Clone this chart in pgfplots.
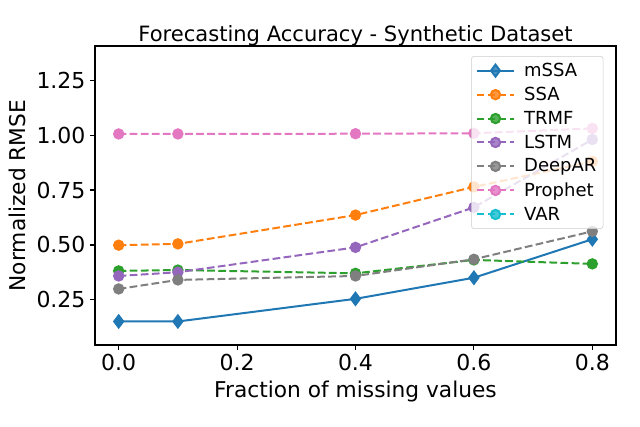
\documentclass[border=0pt]{standalone}
\usepackage{fontspec}
\setmainfont{DejaVu Sans}
\usepackage{pgfplots}
\pgfplotsset{compat=1.18}

\definecolor{c0}{HTML}{1F77B4}
\definecolor{c1}{HTML}{FF7F0E}
\definecolor{c2}{HTML}{2CA02C}
\definecolor{c4}{HTML}{9467BD}
\definecolor{c7}{HTML}{7F7F7F}
\definecolor{c6}{HTML}{E377C2}
\definecolor{c9}{HTML}{17BECF}

\begin{document}
\begin{tikzpicture}
\useasboundingbox (-71.25pt,-60.75pt) rectangle (408.75pt,258.75pt);
\begin{axis}[
    at={(0,0)}, anchor=south west,
    width=390.75pt, height=224.25pt,
    scale only axis,
    xmin=-0.04, xmax=0.84,
    ymin=0.045, ymax=1.405,
    xtick={0,0.2,0.4,0.6,0.8},
    ytick={0.25,0.5,0.75,1.0,1.25},
    xticklabels={0.0,0.2,0.4,0.6,0.8},
    yticklabels={0.25,0.50,0.75,1.00,1.25},
    tick align=outside,
    major tick length=3.6pt,
    xtick pos=bottom, ytick pos=left,
    axis line style={line width=0.8pt},
    every tick/.style={black, line width=0.8pt},
    tick label style={font=\fontsize{16.5pt}{19pt}\selectfont},
    /pgf/number format/assume math mode=true,
    every axis title shift=0pt,
    title={Forecasting Accuracy - Synthetic Dataset},
    title style={font=\fontsize{15.8pt}{19pt}\selectfont, at={(axis description cs:0.5,1.0335)}, anchor=center},
    xlabel={Fraction of missing values},
    ylabel={Normalized RMSE},
    xlabel style={font=\fontsize{16.3pt}{19pt}\selectfont, at={(axis description cs:0.5,-0.154)}, anchor=center},
    ylabel style={font=\fontsize{16.3pt}{19pt}\selectfont, at={(axis description cs:-0.148,0.5)}, anchor=center, rotate=0},
    legend style={
        at={(axis description cs:1,1)}, anchor=north east,
        xshift=-9.5pt, yshift=-7.5pt,
        fill=white, fill opacity=0.8, draw opacity=1, text opacity=1,
        draw=black!20, rounded corners=2pt,
        font=\fontsize{13.5pt}{16pt}\selectfont,
        row sep=2.5pt, column sep=4.5pt, inner sep=3pt,
        legend cell align=left,
    },
    every axis plot/.append style={line width=1.5pt},
    legend image code/.code={
        \draw[mark repeat=2,mark phase=2]
        plot coordinates {(0cm,0cm) (0.5cm,0cm) (1.0cm,0cm)};
    },
]
\addplot[c0, solid, mark=diamond*, mark size=4.5pt, mark options={solid}]
  coordinates {(0,0.152) (0.1,0.152) (0.4,0.255) (0.6,0.351) (0.8,0.526)};
\addlegendentry{mSSA}
\addplot[c1, dash pattern=on 5.8pt off 2.5pt, mark=*, mark size=3.5pt, mark options={solid}]
  coordinates {(0,0.499) (0.1,0.505) (0.4,0.636) (0.6,0.764) (0.8,0.880)};
\addlegendentry{SSA}
\addplot[c2, dash pattern=on 5.8pt off 2.5pt, mark=*, mark size=3.5pt, mark options={solid}]
  coordinates {(0,0.382) (0.1,0.386) (0.4,0.371) (0.6,0.432) (0.8,0.414)};
\addlegendentry{TRMF}
\addplot[c4, dash pattern=on 5.8pt off 2.5pt, mark=*, mark size=3.5pt, mark options={solid}]
  coordinates {(0,0.359) (0.1,0.376) (0.4,0.489) (0.6,0.671) (0.8,0.980)};
\addlegendentry{LSTM}
\addplot[c7, dash pattern=on 5.8pt off 2.5pt, mark=*, mark size=3.5pt, mark options={solid}]
  coordinates {(0,0.300) (0.1,0.341) (0.4,0.359) (0.6,0.435) (0.8,0.562)};
\addlegendentry{DeepAR}
\addplot[c6, dash pattern=on 5.8pt off 2.5pt, mark=*, mark size=3.5pt, mark options={solid}]
  coordinates {(0,1.005) (0.1,1.005) (0.4,1.006) (0.6,1.008) (0.8,1.030)};
\addlegendentry{Prophet}
\addlegendimage{c9, dash pattern=on 5.8pt off 2.5pt, mark=*, mark size=3.5pt, mark options={solid}}
\addlegendentry{VAR}
\end{axis}
\end{tikzpicture}
\end{document}
